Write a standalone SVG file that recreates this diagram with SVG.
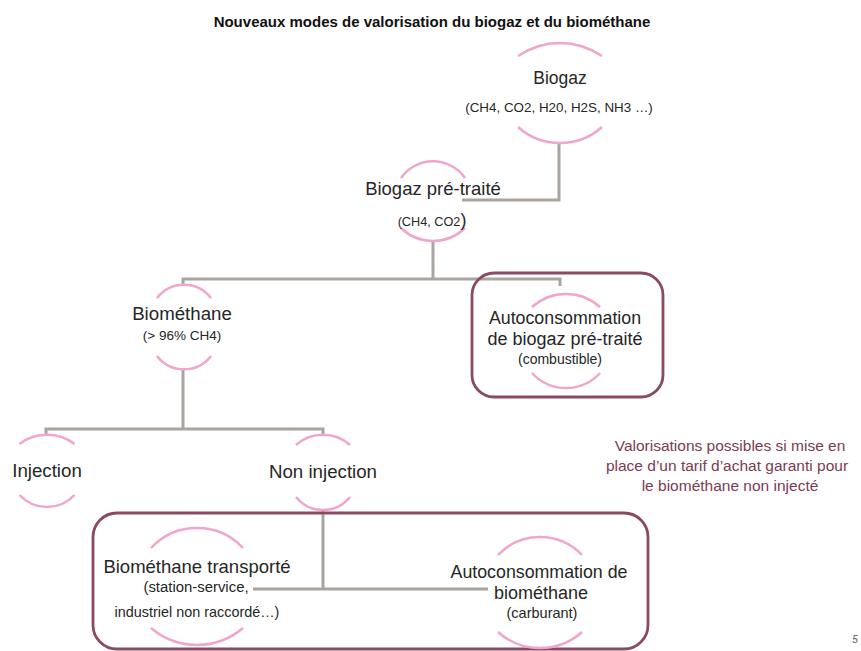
<svg xmlns="http://www.w3.org/2000/svg" width="861" height="651" viewBox="0 0 861 651">
<style>
.arc{fill:none;stroke:#F0A6CC;stroke-width:2.5}
.con{fill:none;stroke:#A9A49F;stroke-width:3}
.box{fill:none;stroke:#8A4A64;stroke-width:2.8}
text{font-family:"Liberation Sans",Arial,sans-serif;fill:#262626;text-anchor:middle}
.t{font-size:18.7px}
.s{font-size:14.5px}
.note{fill:#7A3B55;font-size:15.5px}
</style>
<rect width="861" height="651" fill="#FFFFFF"/>
<text x="432" y="27" style="font-weight:bold;font-size:15px;fill:#111">Nouveaux modes de valorisation du biogaz et du biométhane</text>
<g id="connectors">
<path class="con" d="M559,143 V200 H462"/>
<path class="con" d="M433,242 V279"/>
<path class="con" d="M183,286 V279 H560 V286"/>
<path class="con" d="M183,370 V429"/>
<path class="con" d="M46,435 V429 H323 V435"/>
<path class="con" d="M323,510 V589"/>
<path class="con" d="M253,589 H488"/>
</g>
<g id="box-autoconsommation-biogaz"><rect class="box" x="472" y="273" width="191" height="124" rx="22"/></g>
<g id="box-non-injecte"><rect class="box" x="93" y="513" width="555" height="136" rx="24"/></g>
<g id="biogaz">
<path class="arc" d="M518,56 A74,74 0 0 1 602,56"/>
<path class="arc" d="M518,127 A63,63 0 0 0 602,127"/>
<text class="t" x="560" y="84" style="font-size:17.5px">Biogaz</text>
<text x="559" y="112" style="font-size:13.4px">(CH4, CO2, H20, H2S, NH3 …)</text>
</g>
<g id="biogaz-pretraite">
<path class="arc" d="M401,178 A39,39 0 0 1 465,178"/>
<path class="arc" d="M401,228 A46,46 0 0 0 465,228"/>
<text x="433" y="195" style="font-size:18.5px">Biogaz pré-traité</text>
<text x="432" y="226" style="font-size:12.7px">(CH4, CO2<tspan style="font-size:18px">)</tspan></text>
</g>
<g id="biomethane">
<path class="arc" d="M157,298 A34,34 0 0 1 211,298"/>
<path class="arc" d="M157,356 A34,34 0 0 0 211,356"/>
<text class="t" x="182" y="320">Biométhane</text>
<text x="182" y="340" style="font-size:13.5px">(&gt; 96% CH4)</text>
</g>
<g id="autoconsommation-biogaz">
<path class="arc" d="M532,307 A51,51 0 0 1 600,307"/>
<path class="arc" d="M532,373 A46,46 0 0 0 600,373"/>
<text x="565" y="324" style="font-size:17.8px">Autoconsommation</text>
<text x="565" y="345" style="font-size:18px">de biogaz pré-traité</text>
<text x="560" y="364" style="font-size:14px">(combustible)</text>
</g>
<g id="injection">
<path class="arc" d="M19.5,444 A46,46 0 0 1 74.5,444"/>
<path class="arc" d="M19.5,495 A37.5,37.5 0 0 0 74.5,495"/>
<text class="t" x="47" y="477">Injection</text>
</g>
<g id="non-injection">
<path class="arc" d="M296,445 A41,41 0 0 1 350,445"/>
<path class="arc" d="M296,497 A34.5,34.5 0 0 0 350,497"/>
<text class="t" x="323" y="478">Non injection</text>
</g>
<g id="biomethane-transporte">
<path class="arc" d="M151,548 A63,63 0 0 1 243,548"/>
<path class="arc" d="M151,628 A71,71 0 0 0 243,628"/>
<text x="197" y="573" style="font-size:18.5px">Biométhane transporté</text>
<text x="196" y="592" style="font-size:14.9px">(station-service,</text>
<text x="197" y="617" style="font-size:14.4px">industriel non raccordé…)</text>
</g>
<g id="autoconsommation-biomethane">
<path class="arc" d="M498,555 A58,58 0 0 1 582,555"/>
<path class="arc" d="M498,632 A63,63 0 0 0 582,632"/>
<text x="539" y="578" style="font-size:17.8px">Autoconsommation de</text>
<text x="541" y="599" style="font-size:18px">biométhane</text>
<text x="542" y="618" style="font-size:14.5px">(carburant)</text>
</g>
<g id="note">
<text class="note" x="730" y="451">Valorisations possibles si mise en</text>
<text class="note" x="727" y="471">place d’un tarif d’achat garanti pour</text>
<text class="note" x="730" y="491">le biométhane non injecté</text>
</g>
<text x="855" y="643" style="font-size:10px;font-style:italic;fill:#555">5</text>
</svg>
